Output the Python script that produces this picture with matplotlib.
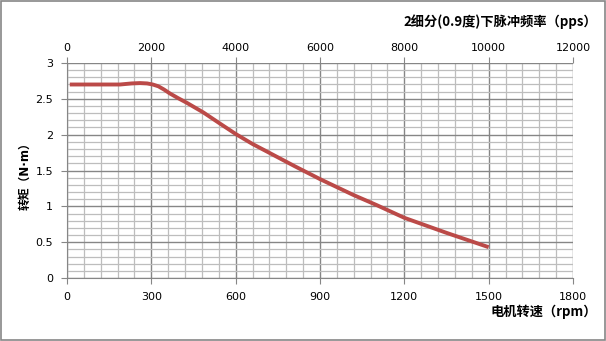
import matplotlib
matplotlib.use("Agg")
import matplotlib.pyplot as plt
from matplotlib.patches import Rectangle
from matplotlib.ticker import MultipleLocator

plt.rcParams['font.family'] = ['DejaVu Sans', 'Noto Sans CJK SC']

# speed (rpm) vs torque (N.m)
speed_rpm = [10, 100, 189, 230, 260, 285, 305, 325, 345, 366, 395, 426, 485,
             546, 600, 660, 723, 810, 900, 1018, 1100, 1200, 1350, 1500]
torque = [2.70, 2.70, 2.70, 2.715, 2.72, 2.715, 2.70, 2.675, 2.63, 2.575, 2.51,
          2.445, 2.31, 2.15, 2.01, 1.87, 1.74, 1.56, 1.38, 1.16, 1.02, 0.84,
          0.63, 0.43]

top_label = "2细分(0.9度)下脉冲频率（pps）"
bottom_label = "电机转速（rpm）"
y_label = "转矩（N·m）"

fig = plt.figure(figsize=(6.06, 3.41), dpi=100)
ax = fig.add_axes([67/606, 1-278/341, (573-67)/606, (278-63)/341])

ax.set_xlim(0, 1800)
ax.set_ylim(0, 3)
ax.xaxis.set_major_locator(MultipleLocator(300))
ax.xaxis.set_minor_locator(MultipleLocator(60))
ax.yaxis.set_major_locator(MultipleLocator(0.5))
ax.yaxis.set_minor_locator(MultipleLocator(0.1))
ax.grid(which='minor', color='#bdbdbd', lw=0.9)
ax.grid(which='major', color='#868686', lw=1.0)
ax.set_axisbelow(True)
for s in ['top', 'right']:
    ax.spines[s].set_visible(False)
for s in ['left', 'bottom']:
    ax.spines[s].set_color('#868686')
ax.tick_params(which='minor', length=0)
ax.tick_params(which='major', length=4, color='#868686', labelsize=8, pad=6)
ax.set_yticks([0, 0.5, 1, 1.5, 2, 2.5, 3])
ax.set_yticklabels(['0', '0.5', '1', '1.5', '2', '2.5', '3'])

ax.plot(speed_rpm, torque, color='#bb4a48', lw=2.8, solid_capstyle='butt',
        solid_joinstyle='round')

top = ax.twiny()
top.set_xlim(0, 12000)
top.xaxis.set_major_locator(MultipleLocator(2000))
for s in ['left', 'right', 'bottom', 'top']:
    top.spines[s].set_visible(False)
top.tick_params(which='major', length=4, color='#868686', labelsize=8, pad=3)

fig.text(597/606, 1-22/341, top_label, ha='right', va='center', fontsize=9.5,
         fontweight='bold', family=['Noto Sans CJK SC', 'DejaVu Sans'])
fig.text(597/606, 1-312/341, bottom_label, ha='right', va='center', fontsize=9.5,
         fontweight='bold', family=['Noto Sans CJK SC', 'DejaVu Sans'])
fig.text(25/606, 1-173/341, y_label, ha='center', va='center', fontsize=8.5,
         fontweight='bold', rotation=90, family=['DejaVu Sans', 'Noto Sans CJK SC'])

fig.patches.append(Rectangle((0.001, 0.002), 0.997, 0.995, transform=fig.transFigure,
                             fill=False, edgecolor='#868686', lw=1.2))

fig.savefig("out.png", dpi=100)
